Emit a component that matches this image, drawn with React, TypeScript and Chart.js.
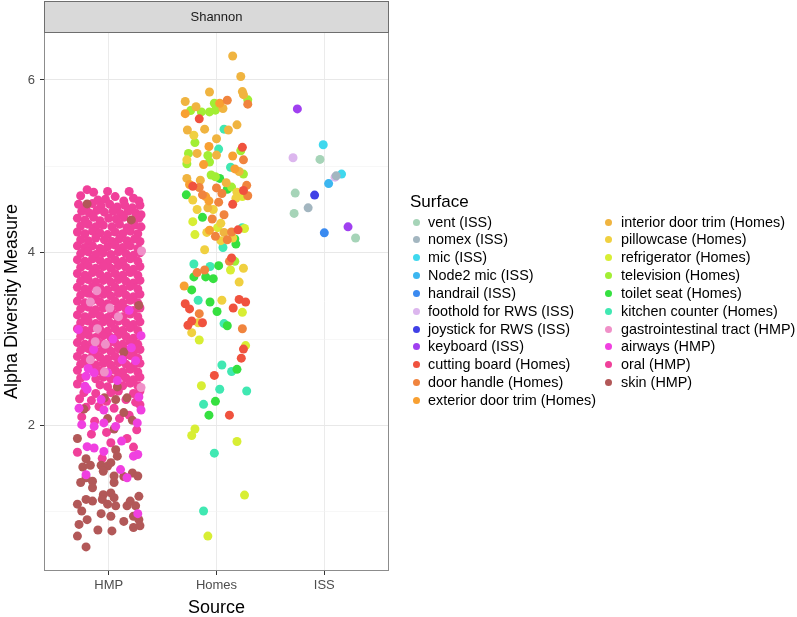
import React, { useEffect, useRef } from "react";
import { Chart, registerables } from "chart.js";

Chart.register(...registerables);

const FONT = "'Liberation Sans', Arial, Helvetica, sans-serif";

const sourceLabels = ["HMP", "Homes", "ISS"];
const sourcePositions = [1, 2, 3];
const yTickValues = [1, 2, 3, 4, 5, 6];
const facetLabel = "Shannon";
const legendTitle = "Surface";
const xTitle = "Source";
const yTitle = "Alpha Diversity Measure";

// ---- ISS ----
const vent = [[2.96, 5.08], [2.73, 4.69], [2.72, 4.455], [3.29, 4.17]];
const nomex = [[3.11, 4.89], [2.85, 4.52]];
const mic = [[2.99, 5.25], [3.16, 4.91]];
const node2Mic = [[3.04, 4.8]];
const handrail = [[3.0, 4.23]];
const foothold = [[2.71, 5.1], [3.1, 4.875]];
const joystick = [[2.91, 4.667]];
const keyboard = [[2.75, 5.665], [3.22, 4.3]];

// ---- Homes ----
const cuttingBoard = [[1.84, 5.55], [2.24, 5.22], [2.25, 4.72], [1.78, 4.77], [2.15, 4.56], [2.2, 4.265], [2.14, 3.94], [2.21, 3.46], [2.27, 3.43], [1.71, 3.41], [1.75, 3.35], [2.155, 3.36], [1.77, 3.21], [1.87, 3.19], [1.735, 3.16], [2.25, 2.885], [2.23, 2.78], [1.98, 2.58], [2.12, 2.12]];
const doorHandle = [[2.29, 5.72], [2.1, 5.765], [2.25, 5.075], [1.84, 4.755], [2.0, 4.75], [2.28, 4.78], [1.87, 4.67], [2.05, 4.685], [2.29, 4.66], [2.02, 4.585], [2.07, 4.44], [1.96, 4.39], [1.99, 4.19], [2.14, 4.24], [2.1, 4.15], [2.12, 3.9], [1.89, 3.8], [1.82, 3.77], [1.84, 3.295], [2.24, 3.12]];
const exteriorDoor = [[2.03, 5.73], [1.71, 5.61], [1.93, 5.23], [2.15, 5.12], [1.88, 5.02], [2.17, 4.97], [1.75, 4.79], [1.93, 4.6], [1.9, 4.65], [1.935, 4.26], [1.7, 3.615]];
const interiorDoor = [[2.15, 6.277], [2.225, 6.04], [2.24, 5.865], [2.25, 5.83], [1.935, 5.86], [1.71, 5.75], [2.06, 5.67], [1.81, 5.69], [1.73, 5.42], [1.89, 5.43], [2.11, 5.42], [2.19, 5.48], [2.0, 5.32], [1.82, 5.15], [2.0, 5.13], [2.21, 4.94], [1.725, 4.86], [1.85, 4.84], [2.09, 4.81], [1.92, 4.52], [2.07, 4.235]];
const pillowcase = [[1.79, 5.36], [1.725, 5.075], [2.19, 4.7], [2.18, 4.63], [1.78, 4.61], [1.82, 4.5], [1.97, 4.5], [2.04, 4.34], [1.91, 4.235], [2.04, 4.14], [2.15, 4.17], [1.89, 4.035], [2.25, 3.82], [2.21, 3.66], [2.05, 3.45], [1.83, 3.19], [1.77, 3.075]];
const refrigerator = [[2.24, 4.65], [1.78, 4.36], [2.01, 4.29], [1.8, 4.21], [2.26, 4.28], [2.13, 3.8], [2.24, 3.31], [1.84, 2.99], [2.27, 2.925], [1.86, 2.46], [1.8, 1.96], [1.77, 1.885], [2.19, 1.815], [2.26, 1.195], [1.92, 0.72]];
const television = [[2.29, 5.77], [1.98, 5.73], [1.76, 5.645], [1.86, 5.63], [1.935, 5.63], [1.99, 5.65], [1.8, 5.275], [2.225, 5.18], [1.74, 5.15], [1.92, 5.125], [1.935, 5.05], [1.725, 5.03], [2.25, 4.91], [1.95, 4.9], [1.99, 4.88], [2.14, 4.76], [2.17, 3.9]];
const toiletSeat = [[2.03, 4.86], [1.72, 4.67], [2.1, 4.735], [1.87, 4.41], [2.18, 4.1], [2.17, 4.16], [2.02, 3.85], [1.79, 3.72], [1.9, 3.72], [1.97, 3.7], [1.77, 3.57], [1.94, 3.43], [2.005, 3.32], [2.1, 3.155], [2.19, 2.65], [1.99, 2.28], [1.93, 2.12]];
const kitchenCounter = [[2.07, 5.43], [2.02, 5.2], [2.13, 4.99], [2.24, 4.29], [2.06, 4.06], [1.79, 3.87], [1.94, 3.84], [1.83, 3.45], [2.07, 3.18], [2.05, 2.7], [2.14, 2.625], [2.03, 2.42], [2.28, 2.4], [1.88, 2.245], [1.98, 1.68], [1.88, 1.01]];

// ---- HMP ----
const giTract = [[0.89, 3.56], [0.83, 3.43], [1.01, 3.36], [1.09, 3.26], [1.305, 4.02], [0.895, 3.12], [0.875, 2.97], [0.97, 2.94], [0.83, 2.76], [0.96, 2.62], [1.3, 2.44]];
const airways = [[1.19, 3.333], [1.3, 3.04], [1.125, 2.76], [1.25, 2.75], [0.81, 2.66], [0.78, 2.455], [0.79, 2.57], [0.865, 2.61], [0.99, 2.61], [0.8, 2.42], [0.725, 2.2], [0.955, 2.18], [1.3, 2.18], [0.75, 2.01], [0.865, 1.99], [0.955, 2.03], [1.065, 1.99], [1.265, 2.03], [0.8, 1.755], [0.865, 1.74], [0.955, 1.7], [1.12, 1.82], [1.23, 1.645], [1.27, 1.665], [1.11, 1.49], [1.17, 1.395], [0.79, 1.43], [1.27, 0.98], [0.86, 2.88], [1.04, 3.0], [0.72, 3.11], [1.21, 2.9], [1.08, 2.52], [1.28, 2.33], [0.93, 2.3]];
const oral = [
  [0.8, 4.73], [0.86, 4.7], [0.99, 4.71], [1.19, 4.71], [0.74, 4.66], [1.06, 4.65], [1.23, 4.63], [0.9, 4.61], [1.14, 4.6], [1.28, 4.6], [0.97, 4.62],
  [0.72, 4.56], [0.79, 4.53], [0.85, 4.57], [0.93, 4.54], [1.01, 4.56], [1.08, 4.53], [1.15, 4.55], [1.22, 4.52], [1.29, 4.55],
  [0.75, 4.48], [0.82, 4.46], [0.89, 4.49], [0.96, 4.47], [1.04, 4.48], [1.11, 4.45], [1.18, 4.48], [1.25, 4.46], [1.3, 4.44],
  [0.71, 4.4], [0.78, 4.38], [0.86, 4.41], [0.92, 4.37], [1.0, 4.4], [1.07, 4.39], [1.14, 4.41], [1.21, 4.37], [1.28, 4.4],
  [0.74, 4.31], [0.81, 4.33], [0.88, 4.3], [0.95, 4.32], [1.03, 4.3], [1.1, 4.33], [1.17, 4.29], [1.24, 4.32], [1.3, 4.3],
  [0.71, 4.24], [0.78, 4.22], [0.85, 4.25], [0.92, 4.23], [0.99, 4.21], [1.06, 4.24], [1.13, 4.22], [1.2, 4.25], [1.27, 4.22],
  [0.74, 4.15], [0.81, 4.14], [0.88, 4.17], [0.96, 4.15], [1.03, 4.13], [1.1, 4.16], [1.17, 4.14], [1.24, 4.16], [1.29, 4.13],
  [0.71, 4.08], [0.78, 4.06], [0.85, 4.08], [0.92, 4.05], [0.99, 4.07], [1.06, 4.09], [1.13, 4.06], [1.2, 4.08], [1.27, 4.05],
  [0.74, 3.99], [0.81, 4.01], [0.88, 3.98], [0.95, 4.0], [1.02, 3.98], [1.09, 4.01], [1.16, 3.99], [1.23, 3.97], [1.29, 4.0],
  [0.71, 3.92], [0.78, 3.9], [0.85, 3.93], [0.92, 3.91], [0.99, 3.89], [1.06, 3.92], [1.13, 3.9], [1.2, 3.93], [1.27, 3.9],
  [0.74, 3.83], [0.81, 3.85], [0.88, 3.82], [0.95, 3.84], [1.02, 3.82], [1.09, 3.85], [1.16, 3.83], [1.23, 3.81], [1.29, 3.84],
  [0.71, 3.76], [0.78, 3.74], [0.85, 3.77], [0.92, 3.75], [0.99, 3.73], [1.06, 3.76], [1.13, 3.74], [1.2, 3.77], [1.27, 3.74],
  [0.74, 3.67], [0.81, 3.69], [0.88, 3.66], [0.95, 3.68], [1.02, 3.66], [1.09, 3.69], [1.16, 3.67], [1.23, 3.65], [1.29, 3.68],
  [0.71, 3.6], [0.78, 3.58], [0.85, 3.61], [0.92, 3.59], [0.99, 3.57], [1.06, 3.6], [1.13, 3.58], [1.2, 3.61], [1.27, 3.58],
  [0.74, 3.51], [0.81, 3.53], [0.88, 3.5], [0.95, 3.52], [1.02, 3.5], [1.09, 3.53], [1.16, 3.51], [1.23, 3.49], [1.29, 3.52],
  [0.71, 3.44], [0.78, 3.42], [0.85, 3.45], [0.92, 3.43], [0.99, 3.41], [1.06, 3.44], [1.13, 3.42], [1.2, 3.45], [1.27, 3.42],
  [0.74, 3.35], [0.81, 3.37], [0.88, 3.34], [0.95, 3.36], [1.02, 3.34], [1.09, 3.37], [1.16, 3.35], [1.23, 3.33], [1.29, 3.36],
  [0.71, 3.28], [0.78, 3.26], [0.85, 3.29], [0.92, 3.27], [0.99, 3.25], [1.06, 3.28], [1.13, 3.26], [1.2, 3.29], [1.27, 3.26],
  [0.74, 3.19], [0.81, 3.21], [0.88, 3.18], [0.95, 3.2], [1.02, 3.18], [1.09, 3.21], [1.16, 3.19], [1.23, 3.17], [1.29, 3.2],
  [0.71, 3.12], [0.78, 3.1], [0.85, 3.13], [0.92, 3.11], [0.99, 3.09], [1.06, 3.12], [1.13, 3.1], [1.2, 3.13], [1.27, 3.1],
  [0.74, 3.03], [0.81, 3.05], [0.88, 3.02], [0.95, 3.04], [1.02, 3.02], [1.09, 3.05], [1.16, 3.03], [1.23, 3.01], [1.29, 3.04],
  [0.71, 2.96], [0.78, 2.94], [0.85, 2.97], [0.92, 2.95], [0.99, 2.93], [1.06, 2.96], [1.13, 2.94], [1.2, 2.97], [1.27, 2.94],
  [0.74, 2.87], [0.81, 2.89], [0.88, 2.86], [0.95, 2.88], [1.02, 2.86], [1.09, 2.89], [1.16, 2.87], [1.23, 2.85], [1.29, 2.88],
  [0.71, 2.8], [0.78, 2.78], [0.85, 2.81], [0.92, 2.79], [0.99, 2.77], [1.06, 2.8], [1.13, 2.78], [1.2, 2.81], [1.27, 2.78],
  [0.74, 2.71], [0.81, 2.73], [0.88, 2.7], [0.95, 2.72], [1.02, 2.7], [1.09, 2.73], [1.16, 2.71], [1.23, 2.69], [1.29, 2.72],
  [0.71, 2.64], [0.85, 2.65], [0.92, 2.63], [0.99, 2.61], [1.06, 2.64], [1.13, 2.62], [1.2, 2.65], [1.27, 2.62],
  [0.74, 2.55], [0.88, 2.54], [0.95, 2.56], [1.02, 2.54], [1.09, 2.57], [1.16, 2.55], [1.23, 2.53], [1.29, 2.56],
  [0.71, 2.48], [0.92, 2.47], [0.99, 2.45], [1.13, 2.46], [1.2, 2.49], [1.27, 2.46],
  [0.77, 2.38], [0.88, 2.37], [1.02, 2.38], [1.09, 2.4], [1.23, 2.37], [1.29, 2.4],
  [0.73, 2.31], [0.84, 2.29], [0.98, 2.28], [1.16, 2.3], [1.25, 2.27],
  [0.79, 2.21], [0.91, 2.22], [1.05, 2.2], [1.19, 2.12], [1.29, 2.24], [0.75, 2.1], [0.87, 2.05], [1.1, 2.08], [1.26, 1.95], [0.98, 1.92], [0.71, 1.69], [1.17, 1.85], [1.02, 1.8], [0.84, 1.9], [1.23, 1.75], [0.94, 1.62],
];
const skin = [[0.8, 4.565], [1.21, 4.38], [1.28, 3.39], [1.14, 2.85], [1.08, 2.447], [0.96, 2.32], [0.77, 2.19], [1.14, 2.15], [1.22, 2.06], [0.99, 2.08], [0.71, 1.85], [1.05, 1.96], [0.79, 1.615], [1.065, 1.72], [1.08, 1.645], [0.76, 1.52], [0.83, 1.54], [0.93, 1.54], [0.99, 1.53], [1.02, 1.57], [0.95, 1.47], [0.79, 1.395], [1.05, 1.415], [1.14, 1.41], [1.22, 1.45], [1.27, 1.415], [0.74, 1.34], [0.85, 1.355], [1.05, 1.34], [0.85, 1.28], [0.95, 1.2], [1.02, 1.22], [1.05, 1.165], [0.79, 1.145], [0.85, 1.125], [0.71, 1.09], [0.94, 1.145], [0.99, 1.09], [1.065, 1.07], [1.17, 1.07], [1.2, 1.125], [1.28, 1.18], [1.25, 1.07], [0.75, 1.01], [0.93, 0.98], [1.02, 0.95], [1.23, 0.95], [1.28, 0.91], [0.8, 0.91], [0.725, 0.855], [1.14, 0.89], [1.23, 0.82], [1.29, 0.84], [0.71, 0.72], [0.9, 0.79], [1.03, 0.78], [0.79, 0.595], [1.065, 2.3], [1.17, 2.32]];

const surfaceNames = [
  "vent (ISS)", "nomex (ISS)", "mic (ISS)", "Node2 mic (ISS)", "handrail (ISS)", "foothold for RWS (ISS)", "joystick for RWS (ISS)", "keyboard (ISS)",
  "cutting board (Homes)", "door handle (Homes)", "exterior door trim (Homes)", "interior door trim (Homes)", "pillowcase (Homes)", "refrigerator (Homes)", "television (Homes)", "toilet seat (Homes)", "kitchen counter (Homes)",
  "gastrointestinal tract (HMP)", "airways (HMP)", "oral (HMP)", "skin (HMP)",
];
const surfaceColors = [
  "#a6d4b8", "#a3b6c0", "#3fd8ee", "#3cb6f0", "#3a8af0", "#dcb6ee", "#4040e6", "#a040f0",
  "#f0523e", "#f0843e", "#f8a032", "#f0b440", "#f0d040", "#d8ee34", "#a2ee34", "#36e040", "#40e8b2",
  "#f090c8", "#f040e0", "#f0409a", "#b25858",
];
const surfacePoints = [
  vent, nomex, mic, node2Mic, handrail, foothold, joystick, keyboard,
  cuttingBoard, doorHandle, exteriorDoor, interiorDoor, pillowcase, refrigerator, television, toiletSeat, kitchenCounter,
  giTract, airways, oral, skin,
];
const legendCol1Count = 11;

export default function App() {
  const ref = useRef<HTMLCanvasElement>(null);

  useEffect(() => {
    const canvas = ref.current;
    if (!canvas) return;

    const datasets = surfaceNames.map((name, i) => ({
      label: name,
      data: surfacePoints[i].map(([x, y]) => ({ x, y })),
      backgroundColor: surfaceColors[i],
      borderWidth: 0,
      pointRadius: 4.5,
      pointHoverRadius: 4.5,
      order: name === "oral (HMP)" ? 1 : 0,
    }));

    const panelPlugin = {
      id: "panelDecor",
      afterDraw(chart: any) {
        const { ctx, chartArea } = chart;
        const { left, right, top, bottom } = chartArea;
        ctx.save();
        ctx.strokeStyle = "#8c8c8c";
        ctx.lineWidth = 1;
        ctx.strokeRect(Math.round(left) + 0.5, Math.round(top) + 0.5, Math.round(right - left) - 1, Math.round(bottom - top) - 1);
        // facet strip
        const sTop = 1;
        ctx.fillStyle = "#d9d9d9";
        ctx.fillRect(left, sTop, right - left, top - sTop);
        ctx.strokeStyle = "#6e6e6e";
        ctx.strokeRect(Math.round(left) + 0.5, sTop + 0.5, Math.round(right - left) - 1, Math.round(top - sTop));
        ctx.fillStyle = "#1a1a1a";
        ctx.font = `13px ${FONT}`;
        ctx.textAlign = "center";
        ctx.textBaseline = "middle";
        ctx.fillText(facetLabel, (left + right) / 2, (sTop + top) / 2 + 1);
        ctx.restore();
      },
    };

    const chart = new Chart(canvas, {
      type: "scatter",
      data: { datasets },
      options: {
        responsive: false,
        animation: false,
        events: [],
        layout: { padding: { top: 32, right: 408, bottom: 0, left: 0 } },
        plugins: { legend: { display: false }, tooltip: { enabled: false } },
        scales: {
          x: {
            type: "linear",
            min: 0.4,
            max: 3.6,
            afterBuildTicks: (s: any) => {
              s.ticks = sourcePositions.map((v) => ({ value: v }));
            },
            afterFit: (s: any) => {
              s.height = 46;
            },
            ticks: {
              autoSkip: false,
              maxRotation: 0,
              padding: 3,
              color: "#4d4d4d",
              font: { family: FONT, size: 13 },
              callback: (_v: any, i: number) => sourceLabels[i],
            },
            grid: { color: "#ebebeb", lineWidth: 1, drawTicks: true, tickLength: 4, tickColor: "#333333", tickWidth: 1 },
            border: { display: false },
            title: { display: true, text: xTitle, color: "#000000", font: { family: FONT, size: 18 }, padding: { top: 0, bottom: -2 } },
          },
          y: {
            type: "linear",
            min: 0.316,
            max: 6.555,
            afterBuildTicks: (s: any) => {
              s.ticks = yTickValues.map((v) => ({ value: v }));
            },
            afterFit: (s: any) => {
              s.width = 44;
            },
            ticks: {
              autoSkip: false,
              padding: 5,
              color: "#4d4d4d",
              font: { family: FONT, size: 13 },
              callback: (v: any) => (Number(v) % 2 === 0 ? String(v) : ""),
            },
            grid: {
              color: (c: any) => (c.tick && c.tick.value % 2 === 0 ? "#e8e8e8" : "#f2f2f2"),
              lineWidth: (c: any) => (c.tick && c.tick.value % 2 === 0 ? 1 : 0.6),
              drawTicks: true,
              tickLength: 4,
              tickWidth: 1,
              tickColor: (c: any) => (c.tick && c.tick.value % 2 === 0 ? "#333333" : "rgba(0,0,0,0)"),
            },
            border: { display: false },
            title: { display: true, text: yTitle, color: "#000000", font: { family: FONT, size: 18 }, padding: { top: 1, bottom: 0 } },
          },
        },
      },
      plugins: [panelPlugin],
    } as any);

    return () => chart.destroy();
  }, []);

  const rowY = (i: number) => 222 + i * 17.85;

  return (
    <div style={{ position: "absolute", left: 0, top: 0, width: 797, height: 617, background: "#ffffff" }}>
      <canvas ref={ref} width={797} height={617} style={{ display: "block", width: 797, height: 617 }} />
      <div
        style={{
          position: "absolute",
          left: 410,
          top: 192,
          height: 20,
          lineHeight: "20px",
          fontFamily: FONT,
          fontSize: 17,
          color: "#000000",
          whiteSpace: "nowrap",
        }}
      >
        {legendTitle}
      </div>
      {surfaceNames.map((name, i) => {
        const col = i < legendCol1Count ? 0 : 1;
        const row = col === 0 ? i : i - legendCol1Count;
        const cy = rowY(row);
        const dotX = col === 0 ? 416 : 608;
        const textX = col === 0 ? 428 : 621;
        return (
          <React.Fragment key={name}>
            <div
              style={{
                position: "absolute",
                left: dotX - 3.5,
                top: cy - 3.5,
                width: 7,
                height: 7,
                borderRadius: "50%",
                background: surfaceColors[i],
              }}
            />
            <div
              style={{
                position: "absolute",
                left: textX,
                top: cy - 8.5,
                height: 17,
                lineHeight: "17px",
                fontFamily: FONT,
                fontSize: 14.4,
                color: "#000000",
                whiteSpace: "nowrap",
              }}
            >
              {name}
            </div>
          </React.Fragment>
        );
      })}
    </div>
  );
}
